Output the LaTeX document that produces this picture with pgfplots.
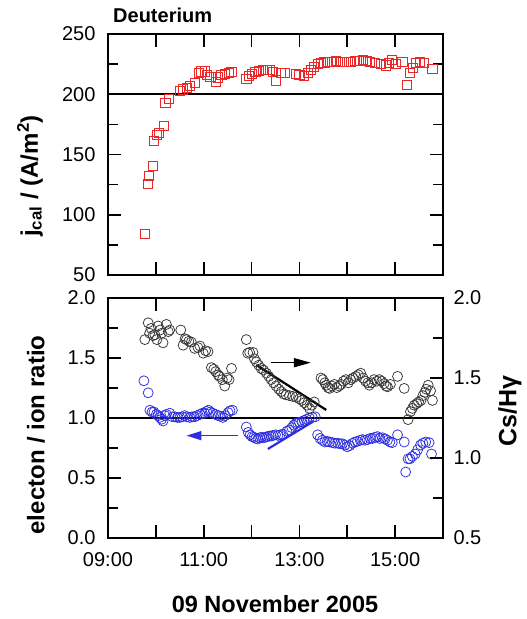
\documentclass[border=0pt]{standalone}
\usepackage{pgfplots}
\pgfplotsset{compat=1.18}
\usepackage{fontspec}
\setmainfont{Liberation Sans}
\usetikzlibrary{arrows.meta}
\definecolor{myred}{RGB}{235,40,40}
\definecolor{myblue}{RGB}{45,45,225}
\definecolor{mygray}{RGB}{55,55,55}
\pgfplotsset{
  base/.style={scale only axis, width=335pt, xmin=9, xmax=16, xtick={9,...,16},
    axis line style={line width=1.7pt},
    major tick style={line width=1.7pt, black},
    minor tick style={line width=1.7pt, black},
    major tick length=13pt, minor tick length=10pt, tick align=inside,
    ticklabel style={font=\fontsize{20}{24}\selectfont},
    /pgf/number format/assume math mode=true},
}
\begin{document}
\begin{tikzpicture}
\path[use as bounding box] (0,0) rectangle (527pt,-619pt);
% ---------- top panel
\begin{axis}[base, at={(108pt,-275pt)}, anchor=south west, height=241pt,
  ymin=50, ymax=250, ytick={50,100,...,250}, minor y tick num=1,
  xticklabels={}, yticklabel shift=9pt]
\addplot[black, line width=1.6pt, no marks] coordinates {(9,200) (16,200)};
\addplot[only marks, mark=square, mark size=4.6pt, myred, mark options={line width=0.75pt}] coordinates {
(9.77,84) (9.83,125.5) (9.86,132) (9.94,140.5) (9.96,161.5) (10.02,166) (10.07,168)
(10.17,173.5) (10.20,193) (10.28,196) (10.50,203) (10.57,204) (10.64,205.5) (10.71,207)
(10.81,209.5) (10.90,218) (10.95,219) (11.02,219) (11.07,216) (11.14,214.5) (11.25,210.5)
(11.30,214) (11.37,216) (11.44,217) (11.53,218) (11.58,218.5)
(11.89,212.5) (11.94,215) (12.01,217) (12.08,218.5) (12.15,219.5) (12.24,220) (12.31,220.5)
(12.38,220) (12.44,218.5) (12.51,211.5) (12.62,217.5) (12.69,218)
(12.93,217) (13.00,216) (13.10,215.5) (13.17,217.5) (13.24,220) (13.31,223) (13.38,225)
(13.45,226) (13.52,226.5) (13.60,227) (13.68,227) (13.76,227.5) (13.84,227) (13.92,227)
(14.00,227) (14.08,227) (14.16,227.5) (14.24,228) (14.32,228.5) (14.40,228) (14.48,227)
(14.57,226) (14.70,225) (14.80,224) (14.87,226) (14.94,228.5) (15.02,225) (15.15,227)
(15.25,208) (15.30,218) (15.37,222) (15.44,226) (15.52,227) (15.60,226) (15.78,221)
};
\end{axis}
% ---------- bottom panel, left axis
\begin{axis}[base, at={(108pt,-538pt)}, anchor=south west, height=240pt,
  ymin=0, ymax=2, ytick={0,0.5,...,2}, minor y tick num=1, ytick pos=left,
  xticklabels={09:00,,11:00,,13:00,,15:00,}, xticklabel shift=11pt, yticklabel shift=9pt,
  yticklabel style={/pgf/number format/.cd, fixed, fixed zerofill, precision=1}]
\addplot[black, line width=1.6pt, no marks] coordinates {(9,1.0) (16,1.0)};
\addplot[only marks, mark=o, mark size=5pt, myblue, mark options={line width=0.75pt}] coordinates {
(9.75,1.31) (9.84,1.21) (9.875,1.065) (9.92,1.05) (9.96,1.05) (10.01,1.03) (10.05,1.02)
(10.08,1.005) (10.12,0.99) (10.15,0.975) (10.19,1.02) (10.22,1.03) (10.29,1.04) (10.35,1.01)
(10.40,1.01) (10.45,1.005) (10.50,1.005) (10.55,1.01) (10.60,1.02) (10.65,1.01) (10.71,1.005)
(10.76,1.01) (10.81,1.01) (10.86,1.02) (10.92,1.03) (10.97,1.04) (11.02,1.04) (11.06,1.055)
(11.10,1.065) (11.14,1.05) (11.19,1.04) (11.25,1.03) (11.30,1.02) (11.35,1.015) (11.40,1.005)
(11.45,1.02) (11.51,1.045) (11.55,1.06) (11.60,1.065)
(11.89,0.925) (11.93,0.88) (11.97,0.86) (12.01,0.845) (12.05,0.84) (12.09,0.83) (12.13,0.825)
(12.17,0.835) (12.21,0.84) (12.25,0.835) (12.29,0.84) (12.33,0.845) (12.37,0.85) (12.41,0.85)
(12.45,0.855) (12.50,0.86) (12.55,0.855) (12.60,0.86) (12.65,0.865) (12.74,0.89) (12.79,0.90)
(12.84,0.92) (12.88,0.94) (12.92,0.955) (12.96,0.96) (13.00,0.965) (13.05,0.97) (13.10,0.98)
(13.15,0.99) (13.21,1.00) (13.27,1.005) (13.33,1.01)
(13.38,0.86) (13.43,0.83) (13.48,0.815) (13.53,0.80) (13.58,0.805) (13.63,0.80) (13.69,0.795)
(13.74,0.79) (13.80,0.79) (13.85,0.785) (13.90,0.785) (13.95,0.775) (14.00,0.76) (14.05,0.77)
(14.11,0.79) (14.16,0.80) (14.21,0.805) (14.27,0.815) (14.32,0.82) (14.37,0.815) (14.42,0.82)
(14.48,0.83) (14.53,0.83) (14.58,0.84) (14.63,0.845) (14.68,0.83) (14.74,0.835) (14.79,0.825)
(14.84,0.815) (14.89,0.80) (14.94,0.795) (15.05,0.86) (15.19,0.80)
(15.22,0.55) (15.27,0.66) (15.31,0.66) (15.36,0.68) (15.42,0.70) (15.47,0.735) (15.53,0.775)
(15.58,0.79) (15.64,0.80) (15.71,0.795) (15.76,0.70)
};
\addplot[myblue, line width=2.2pt, no marks] coordinates {(12.34,0.742) (13.28,0.969)};
\addplot[black, line width=2.2pt, no marks] coordinates {(12.10,1.442) (13.56,1.067)};
\draw[black, line width=1.6pt, -{Triangle[length=17pt,width=9pt]}] (axis cs:12.41,1.461) -- (axis cs:13.24,1.461);
\draw[myblue, line width=1.6pt, -{Triangle[length=15pt,width=9pt]}] (axis cs:11.71,0.853) -- (axis cs:10.64,0.853);
\end{axis}
% ---------- bottom panel, right axis
\begin{axis}[base, at={(108pt,-538pt)}, anchor=south west, height=240pt,
  ymin=0.5, ymax=2, ytick={0.5,1,...,2}, minor y tick num=1,
  axis y line*=right, axis x line=none, yticklabel shift=7pt,
  yticklabel style={/pgf/number format/.cd, fixed, fixed zerofill, precision=1}]
\addplot[only marks, mark=o, mark size=5pt, mygray, mark options={line width=0.75pt}] coordinates {
(9.77,1.74) (9.84,1.845) (9.87,1.78) (9.90,1.81) (9.94,1.765) (9.98,1.77) (10.02,1.74)
(10.05,1.825) (10.09,1.80) (10.12,1.78) (10.15,1.72) (10.22,1.835) (10.26,1.79) (10.29,1.80)
(10.52,1.80) (10.57,1.705) (10.61,1.745) (10.64,1.74) (10.69,1.73) (10.74,1.725) (10.81,1.685)
(10.88,1.69) (10.92,1.70) (10.99,1.655) (11.04,1.67) (11.09,1.665) (11.16,1.565) (11.21,1.555)
(11.25,1.54) (11.30,1.52) (11.33,1.51) (11.39,1.49) (11.44,1.45) (11.49,1.50) (11.53,1.49) (11.58,1.56)
(11.89,1.74) (11.92,1.655) (11.96,1.66) (12.03,1.66) (12.06,1.62) (12.10,1.60) (12.15,1.58)
(12.20,1.56) (12.25,1.55) (12.31,1.53) (12.36,1.51) (12.41,1.49) (12.46,1.47) (12.51,1.45)
(12.57,1.43) (12.62,1.415) (12.67,1.40) (12.72,1.395) (12.79,1.39) (12.86,1.385) (12.93,1.38)
(13.00,1.37) (13.05,1.36) (13.10,1.345) (13.16,1.33) (13.21,1.31) (13.26,1.33) (13.31,1.35)
(13.45,1.50) (13.49,1.49) (13.53,1.47) (13.56,1.455) (13.60,1.44) (13.63,1.435) (13.68,1.45)
(13.73,1.46) (13.78,1.44) (13.83,1.45) (13.87,1.46) (13.92,1.48) (13.97,1.49) (14.02,1.47)
(14.07,1.49) (14.12,1.50) (14.18,1.51) (14.23,1.52) (14.28,1.53) (14.33,1.50) (14.38,1.48)
(14.43,1.47) (14.46,1.455) (14.51,1.47) (14.56,1.49) (14.62,1.48) (14.67,1.49) (14.72,1.48)
(14.77,1.465) (14.81,1.45) (14.84,1.445) (14.90,1.46) (15.05,1.51) (15.19,1.435)
(15.27,1.24) (15.32,1.29) (15.36,1.31) (15.40,1.33) (15.45,1.34) (15.49,1.35) (15.54,1.36)
(15.58,1.39) (15.62,1.41) (15.65,1.43) (15.69,1.455) (15.74,1.42) (15.78,1.36)
};
\end{axis}
% ---------- labels
\node[anchor=base west, inner sep=0pt, font=\fontsize{20}{24}\selectfont\bfseries] at (113pt,-22pt) {Deuterium};
\node[rotate=90, font=\fontsize{24}{28}\selectfont\bfseries] at (30pt,-176pt) {j\textsubscript{cal} / (A/m\textsuperscript{2})};
\node[rotate=90, font=\fontsize{24}{28}\selectfont\bfseries] at (36pt,-435pt) {electon / ion ratio};
\node[rotate=90, font=\fontsize{25}{28}\selectfont\bfseries] at (510pt,-411pt) {Cs/Hγ};
\node[anchor=base, font=\fontsize{23.5}{26}\selectfont\bfseries] at (275pt,-612pt) {09 November 2005};
\end{tikzpicture}
\end{document}
